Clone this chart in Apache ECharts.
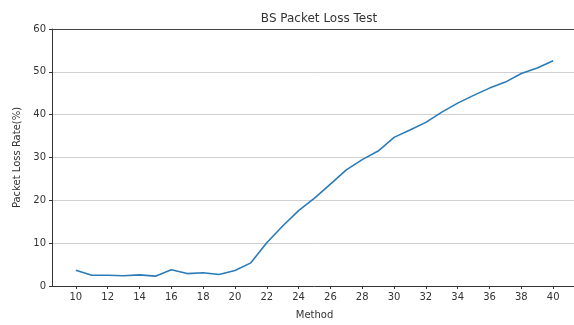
<!DOCTYPE html>
<html>
<head>
<meta charset="utf-8">
<script src="https://cdn.jsdelivr.net/npm/echarts@6/dist/echarts.min.js"></script>
<style>html,body{margin:0;padding:0;background:#fff;overflow:hidden}#c{width:584px;height:325px}</style>
</head>
<body>
<div id="c"></div>
<script>
const methods = [10,11,12,13,14,15,16,17,18,19,20,21,22,23,24,25,26,27,28,29,30,31,32,33,34,35,36,37,38,39,40];
const lossRate = [3.7,2.5,2.5,2.4,2.6,2.3,3.8,2.9,3.1,2.7,3.6,5.4,10.1,14.0,17.6,20.5,23.8,27.1,29.5,31.5,34.7,36.4,38.2,40.6,42.7,44.5,46.2,47.6,49.6,50.9,52.6];
const xTicks = [10,12,14,16,18,20,22,24,26,28,30,32,34,36,38,40];
const yTicks = [0,10,20,30,40,50,60];

const font = 'DejaVu Sans';
const chart = echarts.init(document.getElementById('c'), null, {renderer:'canvas'});
chart.setOption({
  animation: false,
  title: {
    text: 'BS Packet Loss Test',
    left: 314, top: 8, textAlign: 'center',
    textStyle: {fontFamily: font, fontSize: 12, fontWeight: 'normal', color: '#333'}
  },
  grid: {left: 52, right: 7, top: 29, bottom: 36},
  xAxis: {
    type: 'value', min: 8.5, max: 41.5,
    name: 'Method', nameLocation: 'middle', nameGap: 24,
    nameTextStyle: {fontFamily: font, fontSize: 10, color: '#333'},
    axisLine: {show: true, onZero: false, lineStyle: {color: '#333', width: 1}},
    axisTick: {show: true, length: 3, customValues: xTicks, lineStyle: {color: '#333'}},
    axisLabel: {customValues: xTicks, fontFamily: font, fontSize: 10, color: '#333', margin: 6},
    splitLine: {show: false}
  },
  yAxis: {
    type: 'value', min: 0, max: 60, interval: 10,
    name: 'Packet Loss Rate(%)', nameLocation: 'middle', nameGap: 27,
    nameTextStyle: {fontFamily: font, fontSize: 10, color: '#333'},
    axisLine: {show: true, lineStyle: {color: '#333', width: 1}},
    axisTick: {show: true, length: 3, lineStyle: {color: '#333'}},
    axisLabel: {fontFamily: font, fontSize: 10, color: '#333', margin: 6},
    splitLine: {show: true, showMaxLine: false, showMinLine: false, lineStyle: {color: '#d0d0d0', width: 1}}
  },
  series: [{
    type: 'line',
    data: methods.map((m, i) => [m, lossRate[i]]),
    showSymbol: false, symbol: 'none',
    lineStyle: {color: '#2a7bb8', width: 1.6},
    markLine: {
      silent: true, symbol: 'none', label: {show: false},
      lineStyle: {color: '#444', width: 1.2, type: 'solid'},
      data: [{yAxis: 60}]
    }
  }]
});
</script>
</body>
</html>
